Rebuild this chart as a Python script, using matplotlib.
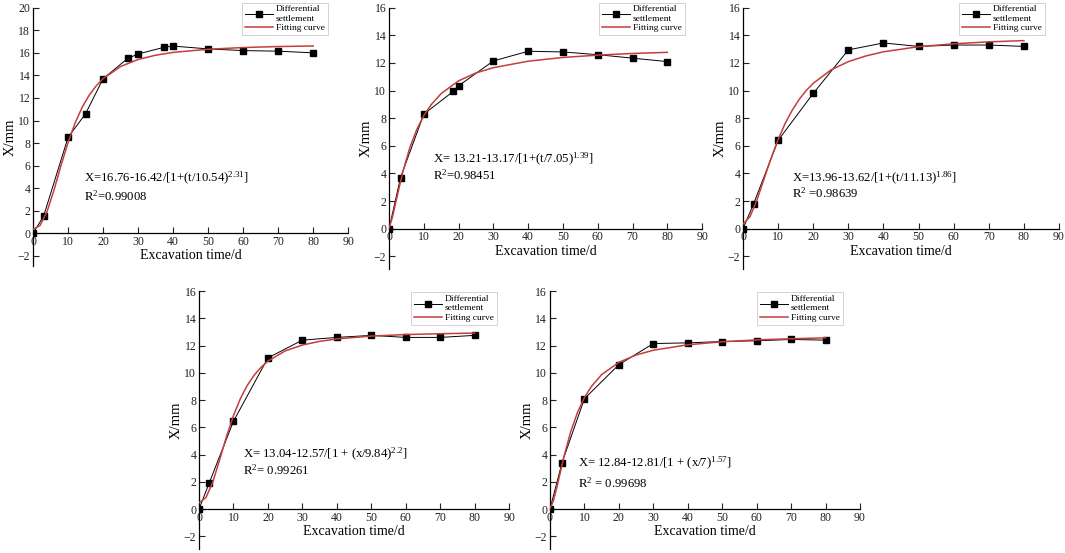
import matplotlib
matplotlib.use("Agg")
import matplotlib.pyplot as plt

plt.rcParams["font.family"] = ["Liberation Serif", "DejaVu Serif"]
plt.rcParams["mathtext.fontset"] = "stix"
plt.rcParams["mathtext.default"] = "regular"

# measured differential settlement, one list pair per panel
t1 = [0, 3, 10, 15, 20, 27, 30, 37.5, 40, 50, 60, 70, 80]
x1 = [0, 1.5, 8.5, 10.6, 13.7, 15.5, 15.9, 16.5, 16.6, 16.35, 16.2, 16.15, 16.0]
t2 = [0, 3.3, 10, 18.5, 20, 30, 40, 50, 60, 70, 80]
x2 = [0, 3.7, 8.3, 9.95, 10.35, 12.15, 12.85, 12.8, 12.6, 12.35, 12.1]
t3 = [0, 3, 10, 20, 30, 40, 50, 60, 70, 80]
x3 = [0, 1.8, 6.4, 9.8, 12.95, 13.45, 13.2, 13.3, 13.3, 13.2]
t4 = [0, 3, 10, 20, 30, 40, 50, 60, 70, 80]
x4 = [0, 1.95, 6.45, 11.1, 12.4, 12.6, 12.75, 12.6, 12.6, 12.75]
t5 = [0, 3.5, 10, 20, 30, 40, 50, 60, 70, 80]
x5 = [0, 3.4, 8.1, 10.6, 12.15, 12.2, 12.3, 12.35, 12.45, 12.4]

# fitting curves
ft1 = [0, 2, 4, 6, 8, 10, 12, 14, 16, 18, 20, 25, 30, 35, 40, 50, 60, 70, 80]
fx1 = [0.34, 0.69, 1.92, 3.85, 6.02, 8.05, 9.77, 11.15, 12.23, 13.06, 13.71,
       14.79, 15.41, 15.79, 16.04, 16.32, 16.47, 16.56, 16.61]
ft2 = [0, 1, 2, 4, 6, 8, 10, 12, 15, 20, 25, 30, 40, 50, 60, 70, 80]
fx2 = [0.04, 0.86, 1.99, 4.16, 5.89, 7.20, 8.19, 8.95, 9.79, 10.71, 11.28,
       11.66, 12.13, 12.40, 12.57, 12.69, 12.77]
ft3 = [0, 2, 4, 6, 8, 10, 12, 14, 16, 18, 20, 25, 30, 35, 40, 50, 60, 70, 80]
fx3 = [0.34, 0.88, 2.11, 3.62, 5.12, 6.47, 7.63, 8.58, 9.37, 10.01, 10.53,
       11.49, 12.10, 12.51, 12.81, 13.18, 13.39, 13.53, 13.62]
ft4 = [0, 2, 4, 6, 8, 10, 12, 14, 16, 18, 20, 25, 30, 35, 40, 50, 60, 70, 80]
fx4 = [0.47, 0.84, 1.99, 3.64, 5.35, 6.87, 8.11, 9.08, 9.83, 10.41, 10.86,
       11.61, 12.04, 12.31, 12.49, 12.70, 12.81, 12.87, 12.92]
ft5 = [0, 1, 2, 4, 6, 8, 10, 12, 15, 20, 25, 30, 40, 50, 60, 70, 80]
fx5 = [0.03, 0.61, 1.60, 3.79, 5.66, 7.10, 8.18, 8.99, 9.87, 10.77, 11.31,
       11.66, 12.06, 12.28, 12.42, 12.50, 12.57]

eq1 = r"X=16.76-16.42/[1+(t/10.54)$^{2.31}$]"
eq2 = r"X= 13.21-13.17/[1+(t/7.05)$^{1.39}$]"
eq3 = r"X=13.96-13.62/[1+(t/11.13)$^{1.86}$]"
eq4 = r"X= 13.04-12.57/[1 + (x/9.84)$^{2.2}$]"
eq5 = r"X= 12.84-12.81/[1 + (x/7)$^{1.57}$]"
r2_1 = r"R$^{2}$=0.99008"
r2_2 = r"R$^{2}$=0.98451"
r2_3 = r"R$^{2}$ =0.98639"
r2_4 = r"R$^{2}$= 0.99261"
r2_5 = r"R$^{2}$ = 0.99698"

RED = "#c23f3a"

panels = [
    # rect, ymax, data, fit, eq, r2, eq pos, r2 pos, legend anchor
    ([0.031, 0.519, 0.296, 0.467], 20, (t1, x1), (ft1, fx1), eq1, r2_1,
     (14.5, 4.6), (14.5, 2.9), (0.935, 1.02)),
    ([0.3653, 0.514, 0.294, 0.472], 16, (t2, x2), (ft2, fx2), eq2, r2_2,
     (12.6, 4.8), (12.6, 3.55), (0.945, 1.02)),
    ([0.6977, 0.514, 0.2967, 0.472], 16, (t3, x3), (ft3, fx3), eq3, r2_3,
     (14.0, 3.4), (14.0, 2.25), (0.955, 1.02)),
    ([0.1869, 0.008, 0.2911, 0.4656], 16, (t4, x4), (ft4, fx4), eq4, r2_4,
     (12.8, 3.75), (12.8, 2.5), (0.96, 0.995)),
    ([0.5164, 0.008, 0.2911, 0.4656], 16, (t5, x5), (ft5, fx5), eq5, r2_5,
     (8.1, 3.1), (8.1, 1.6), (0.945, 0.995)),
]

fig = plt.figure(figsize=(10.65, 5.53), dpi=100)
fig.patch.set_facecolor("white")

for rect, ymax, (t, x), (ft, fx), eq, r2, peq, pr2, lanchor in panels:
    ax = fig.add_axes(rect)
    ax.plot(t, x, color="black", lw=0.7, marker="s", ms=4.5,
            mfc="black", mec="black", label="Differential\nsettlement", zorder=3)
    ax.plot(ft, fx, color=RED, lw=1.1, label="Fitting curve", zorder=4)

    ax.set_xlim(0, 90)
    ax.set_ylim(-2.9, ymax)
    ax.set_xticks(range(0, 91, 10))
    ax.set_yticks(range(-2, ymax + 1, 2))
    ax.spines["top"].set_visible(False)
    ax.spines["right"].set_visible(False)
    ax.spines["bottom"].set_position(("data", 0))
    for s in ("left", "bottom"):
        ax.spines[s].set_linewidth(0.9)
    ax.tick_params(direction="in", length=4, width=0.8, labelsize=8.5,
                   pad=2, colors="#222222")
    ax.set_xlabel("Excavation time/d", fontsize=10, labelpad=1)
    ax.set_ylabel("X/mm", fontsize=10.5, labelpad=1)

    ax.text(peq[0], peq[1], eq, fontsize=9.2)
    ax.text(pr2[0], pr2[1], r2, fontsize=9.2)

    leg = ax.legend(loc="upper right", bbox_to_anchor=lanchor, fontsize=6.8,
                    fancybox=False, framealpha=1, edgecolor="#cccccc",
                    handlelength=3.0, handletextpad=0.3, labelspacing=0.1,
                    borderpad=0.3, borderaxespad=0)
    leg.get_frame().set_linewidth(0.6)

fig.savefig("out.png", dpi=100)
